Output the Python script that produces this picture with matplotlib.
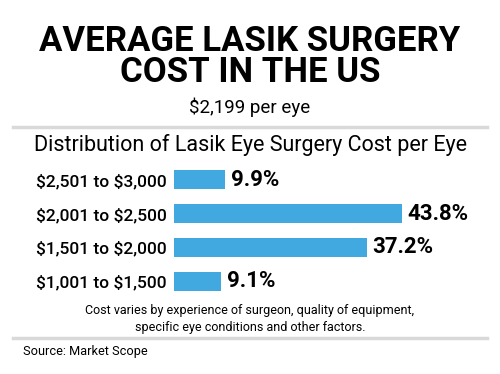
import matplotlib
matplotlib.use("Agg")
import matplotlib.pyplot as plt
from matplotlib.lines import Line2D

# data
categories = ["\\$2,501 to \\$3,000", "\\$2,001 to \\$2,500", "\\$1,501 to \\$2,000", "\\$1,001 to \\$1,500"]
shares = [9.9, 43.8, 37.2, 9.1]
value_labels = ["9.9%", "43.8%", "37.2%", "9.1%"]

title = "AVERAGE LASIK SURGERY\nCOST IN THE US"
subtitle = "\\$2,199 per eye"
chart_title = "Distribution of Lasik Eye Surgery Cost per Eye"
note = "Cost varies by experience of surgeon, quality of equipment,\nspecific eye conditions and other factors."
source = "Source: Market Scope"

bar_color = "#41a8e0"
W, H = 500, 374

fig = plt.figure(figsize=(W / 100, H / 100), dpi=100)
fig.patch.set_facecolor("white")

def fy(py):
    return 1 - py / H

def fx(px):
    return px / W

font = ["Roboto", "DejaVu Sans"]

fig.text(0.5, fy(57), title, ha="center", va="center", fontsize=25, fontweight="bold",
         family=font, linespacing=0.95)
fig.text(0.5, fy(107), subtitle, ha="center", va="center", fontsize=13.5, family=font)

for py in (127, 338):
    fig.add_artist(Line2D([fx(13), fx(487)], [fy(py), fy(py)], color="#d9d9d9", lw=2.5))

fig.text(0.5, fy(145), chart_title, ha="center", va="center", fontsize=15.5, family=font)

# bars axes: rows centred at ~180, 214, 248, 281 px
ax = fig.add_axes([fx(174), fy(298), fx(487) - fx(174), fy(163) - fy(298)])
y = list(range(len(categories)))
ax.barh(y, shares, height=0.56, color=bar_color)
ax.set_xlim(0, 313 / 5.2)
ax.set_ylim(len(categories) - 0.5, -0.5)
ax.set_yticks(y)
ax.set_yticklabels(categories, fontsize=12.5, family=font, fontweight="medium")
ax.tick_params(axis="y", length=0, pad=5)
ax.set_xticks([])
for s in ax.spines.values():
    s.set_visible(False)
for yi, v, lab in zip(y, shares, value_labels):
    ax.text(v + 1.0, yi, lab, ha="left", va="center", fontsize=16, fontweight="bold", family=font)

fig.text(0.5, fy(319), note, ha="center", va="center", fontsize=9, family=font, linespacing=1.35)
fig.text(fx(23), fy(352), source, ha="left", va="center", fontsize=9.2, family=font)

fig.savefig("out.png", dpi=100, facecolor="white")
